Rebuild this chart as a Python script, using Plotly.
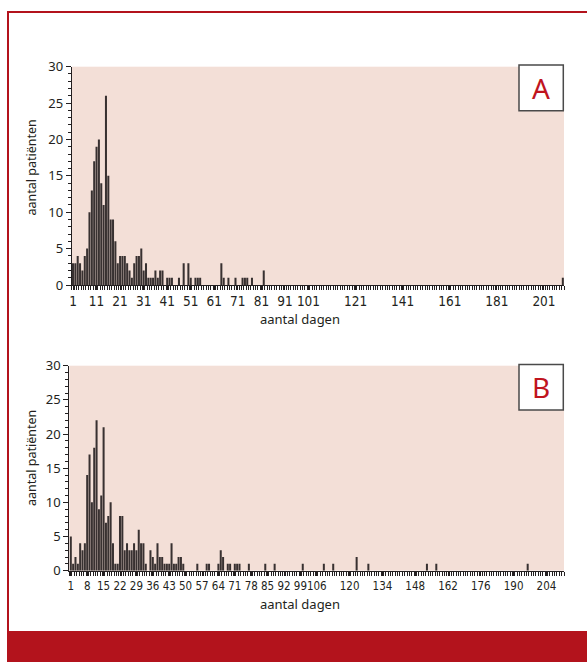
import plotly.graph_objects as go

# ---------------- data ----------------
# Panel A: length of stay (days) vs number of patients
days_a = list(range(1, 40)) + [41, 42, 43, 46, 48, 50, 51, 53, 54, 55, 64, 65, 67, 70, 73, 74, 75, 77, 82, 209]
counts_a = [3, 3, 4, 3, 2, 4, 5, 10, 13, 17, 19, 20, 14, 11, 26, 15, 9, 9, 6, 3,
            4, 4, 4, 3, 2, 1, 3, 4, 4, 5, 2, 3, 1, 1, 1, 2, 1, 2, 2,
            1, 1, 1, 1, 3, 3, 1, 1, 1, 1, 3, 1, 1, 1, 1, 1, 1, 1, 2, 1]
ticks_a = [1, 11, 21, 31, 41, 51, 61, 71, 81, 91, 101, 121, 141, 161, 181, 201]

# Panel B
days_b = list(range(1, 50)) + [55, 59, 60, 64, 65, 66, 68, 69, 71, 72, 73, 77, 84, 88,
                               100, 109, 113, 123, 128, 153, 157, 196]
counts_b = [5, 1, 2, 1, 4, 3, 4, 14, 17, 10, 18, 22, 9, 11, 21, 7, 8, 10, 4, 1,
            1, 8, 8, 3, 4, 3, 3, 4, 3, 6, 4, 4, 1, 0, 3, 2, 1, 4, 2, 2,
            1, 1, 1, 4, 1, 1, 2, 2, 1,
            1, 1, 1, 1, 3, 2, 1, 1, 1, 1, 1, 1, 1, 1,
            1, 1, 1, 2, 1, 1, 1, 1]
ticks_b = [1, 8, 15, 22, 29, 36, 43, 50, 57, 64, 71, 78, 85, 92, 99, 106,
           120, 134, 148, 162, 176, 190, 204]

y_ticks = [0, 5, 10, 15, 20, 25, 30]
panel_letters = ["A", "B"]
y_title = "aantal patiënten"
x_title = "aantal dagen"

# ---------------- style ----------------
W, H = 587, 662
RED = "#B3131C"
PINK = "#F3DFD7"
BAR = "#383131"
AX = "#231F20"
FONT = "Noto Sans, Open Sans, DejaVu Sans, sans-serif"
NARROW = "Liberation Sans Narrow, DejaVu Sans Condensed, Arial Narrow, sans-serif"


def px_x(p):
    return p / W


def px_y(p):
    return 1 - p / H


fig = go.Figure()
fig.add_trace(go.Bar(x=days_a, y=counts_a, xaxis="x", yaxis="y",
                     marker=dict(color=BAR, line=dict(width=0)), showlegend=False))
fig.add_trace(go.Bar(x=days_b, y=counts_b, xaxis="x2", yaxis="y2",
                     marker=dict(color=BAR, line=dict(width=0)), showlegend=False))

common_y = dict(range=[0, 30], tickvals=y_ticks, tickmode="array", ticks="outside", ticklen=5,
                tickwidth=1, tickcolor=AX, showline=True, linecolor=AX, linewidth=1,
                showgrid=False, zeroline=False, automargin=False,
                tickfont=dict(family=FONT, size=13, color=AX),
                minor=dict(ticks="outside", ticklen=3, tickwidth=1, tickcolor=AX,
                           tickmode="linear", tick0=0, dtick=1, showgrid=False),
                fixedrange=True)
common_x = dict(ticks="outside", ticklen=4, tickwidth=1, tickcolor=AX, tickangle=0,
                showline=True, linecolor=AX, linewidth=1, showgrid=False, zeroline=False,
                automargin=False,
                minor=dict(ticks="outside", ticklen=4, tickwidth=1, tickcolor=AX,
                           tickmode="linear", tick0=0.5, dtick=1, showgrid=False),
                tickmode="array", fixedrange=True)

fig.update_layout(
    template="none",
    width=W, height=H,
    margin=dict(l=0, r=0, t=0, b=0, pad=0, autoexpand=False),
    paper_bgcolor="white",
    plot_bgcolor=PINK,
    bargap=0.14,
    showlegend=False,
    xaxis=dict(common_x, domain=[px_x(71.7), px_x(564)], range=[0.45, 209.5],
               tickvals=ticks_a, anchor="y",
               tickfont=dict(family=NARROW, size=13.5, color=AX)),
    yaxis=dict(common_y, domain=[px_y(285), px_y(66.7)], anchor="x"),
    xaxis2=dict(common_x, domain=[px_x(69.3), px_x(564)], range=[0.36, 211.5],
                tickvals=ticks_b, anchor="y2",
                tickfont=dict(family=NARROW, size=11.5, color=AX)),
    yaxis2=dict(common_y, domain=[px_y(570.7), px_y(365.7)], anchor="x2"),
)

annotations = []
for yc in (167.5, 458):
    annotations.append(dict(text=y_title, x=px_x(31), y=px_y(yc), xref="paper", yref="paper",
                            xanchor="center", yanchor="middle",
                            textangle=-90, showarrow=False,
                            font=dict(family=FONT, size=12.5, color=AX)))
for yc in (319, 604):
    annotations.append(dict(text=x_title, x=px_x(300), y=px_y(yc), xref="paper", yref="paper",
                            xanchor="center", yanchor="middle",
                            showarrow=False, font=dict(family=FONT, size=13, color=AX)))

shapes = []
for letter, (top, bot) in zip(panel_letters, [(65, 110.7), (364.5, 410)]):
    shapes.append(dict(type="rect", xref="paper", yref="paper",
                       x0=px_x(519), x1=px_x(563.3), y0=px_y(bot), y1=px_y(top),
                       fillcolor="white", line=dict(color="#4a4a4a", width=1.5), layer="above"))
    annotations.append(dict(text=letter, x=px_x(541.2), y=px_y((top + bot) / 2), xref="paper",
                            yref="paper", xanchor="center", yanchor="middle", showarrow=False,
                            font=dict(family=FONT, size=28, color="#C0141E")))

# red frame and bottom band
shapes.append(dict(type="rect", xref="paper", yref="paper",
                   x0=px_x(8), x1=px_x(600), y0=px_y(680), y1=px_y(12),
                   fillcolor="rgba(0,0,0,0)", line=dict(color=RED, width=2)))
shapes.append(dict(type="rect", xref="paper", yref="paper",
                   x0=px_x(7), x1=px_x(600), y0=px_y(680), y1=px_y(631),
                   fillcolor=RED, line=dict(width=0)))

fig.update_layout(annotations=annotations, shapes=shapes)
fig.write_html("out.html", config={"displayModeBar": False},
               post_script="document.body.style.margin='0';document.body.style.overflow='hidden';")
